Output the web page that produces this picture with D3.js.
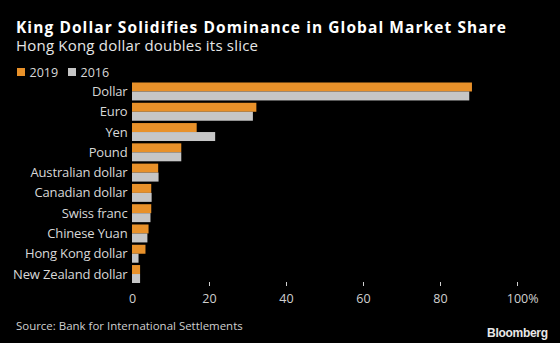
<!DOCTYPE html>
<html><head><meta charset="utf-8">
<script src="https://cdn.jsdelivr.net/npm/d3@7"></script>
<style>body{margin:0;background:#000;} svg{display:block;}</style>
</head><body>
<svg id="c" width="560" height="343"></svg>
<script>
const categories = ["Dollar","Euro","Yen","Pound","Australian dollar","Canadian dollar","Swiss franc","Chinese Yuan","Hong Kong dollar","New Zealand dollar"];
const seriesNames = ["2019","2016"];
const values2019 = [88.3,32.3,16.8,12.8,6.8,5.0,5.0,4.3,3.5,2.1];
const values2016 = [87.6,31.4,21.6,12.8,6.9,5.1,4.8,4.0,1.7,2.1];
const tickValues = [0,20,40,60,80,100];
const colors = ["#e8912a","#c6c6c6"];

const svg = d3.select("#c");
svg.append("rect").attr("width",560).attr("height",343).attr("fill","#000");
const font = "'Open Sans', 'Noto Sans', sans-serif";

function fitSpacing(sel, target){
  const w = sel.node().getComputedTextLength();
  const n = sel.text().length;
  sel.attr("letter-spacing", (target - w)/(n-1));
}
function fitText(sel, target){
  const w = sel.node().getComputedTextLength();
  const fs = parseFloat(sel.attr("font-size"));
  sel.attr("font-size", fs*target/w);
}

const title = svg.append("text").attr("x",16).attr("y",33).attr("fill","#fff")
  .attr("font-family",font).attr("font-weight","bold").attr("font-size",15.5)
  .text("King Dollar Solidifies Dominance in Global Market Share");
fitSpacing(title, 490);
const sub = svg.append("text").attr("x",16).attr("y",51).attr("fill","#e6e6e6")
  .attr("font-family",font).attr("font-size",15)
  .text("Hong Kong dollar doubles its slice");
fitSpacing(sub, 242);

// legend
const leg = svg.append("g");
const legX = [17,68];
seriesNames.forEach((s,i)=>{
  leg.append("rect").attr("x",legX[i]).attr("y",68).attr("width",8).attr("height",8).attr("fill",colors[i]);
  leg.append("text").attr("x",legX[i]+12.5).attr("y",76.5).attr("fill","#d8d8d8")
    .attr("font-family",font).attr("font-size",12.5).text(s);
});

const x = d3.scaleLinear().domain([0,100]).range([132,517]);
const y = d3.scaleBand().domain(categories).range([82.5,283]).paddingInner(0.115).paddingOuter(0);
const ySub = d3.scaleBand().domain(seriesNames).range([0,y.bandwidth()]);

const data = categories.map((c,i)=>({cat:c, vals:[values2019[i],values2016[i]]}));
const g = svg.append("g");
data.forEach(d=>{
  d.vals.forEach((v,j)=>{
    g.append("rect").attr("x",x(0)).attr("y",y(d.cat)+ySub(seriesNames[j]))
      .attr("width",x(v)-x(0)).attr("height",ySub.bandwidth()).attr("fill",colors[j]);
  });
});

// category labels
svg.append("g").selectAll("text").data(categories).join("text")
  .attr("x",127.5).attr("y",d=>y(d)+y.bandwidth()/2+4.6)
  .attr("text-anchor","end").attr("fill","#d8d8d8")
  .attr("font-family",font).attr("font-size",13).attr("letter-spacing",-0.15).text(d=>d);

// x axis
const axis = d3.axisBottom(x).tickValues(tickValues).tickSize(4).tickFormat(d=>d);
const ax = svg.append("g").attr("transform","translate(0,282)").call(axis);
ax.select(".domain").remove();
ax.selectAll(".tick line").attr("stroke","#cfcfcf").attr("y1",0).attr("y2",4)
  .filter(d=>d===0).remove();
ax.selectAll(".tick text").attr("fill","#d0d0d0").attr("font-family",font)
  .attr("font-size",12.5).attr("y",12).attr("dy","0.71em");
ax.selectAll(".tick text").filter(d=>d===100).each(function(){
  const t = d3.select(this);
  const w = this.getComputedTextLength();
  t.attr("text-anchor","start").attr("x",-w/2).text("100%");
});

const src = svg.append("text").attr("x",16).attr("y",330).attr("fill","#cfcfcf")
  .attr("font-family",font).attr("font-size",12.5).text("Source: Bank for International Settlements");
fitText(src, 227);
const bb = svg.append("text").attr("x",487).attr("y",336.5).attr("fill","#e8e8e8")
  .attr("font-family","'Liberation Sans', Arial, sans-serif").attr("font-weight","bold").attr("font-size",13).attr("letter-spacing","-0.3")
  .text("Bloomberg");
fitText(bb, 61);
</script>
</body></html>
